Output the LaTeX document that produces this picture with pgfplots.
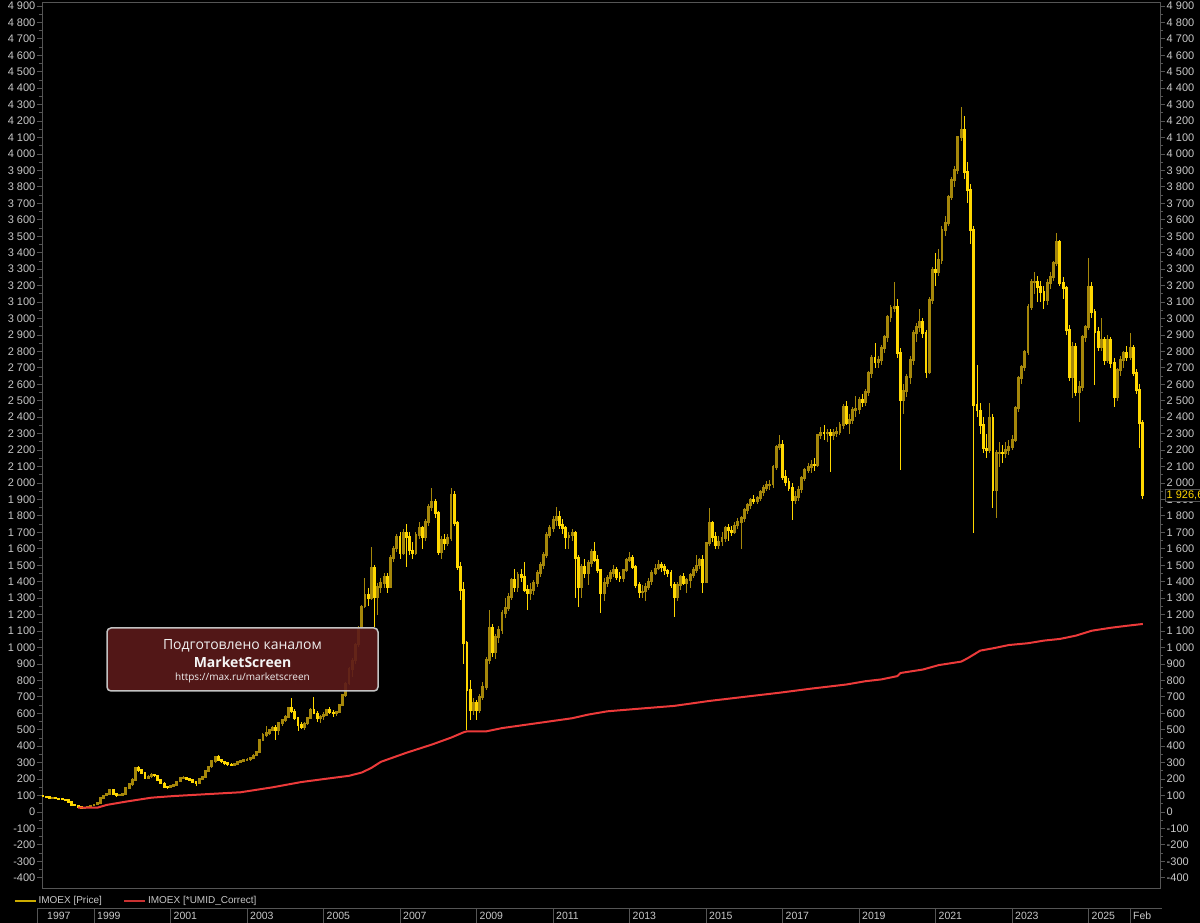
\documentclass[border=0pt]{standalone}
\usepackage{fontspec}
\setmainfont{Liberation Sans}
\newfontfamily\wmfont{Open Sans}
\usepackage{pgfplots}
\pgfplotsset{compat=1.18}
\usepackage{pgfplotstable}
\definecolor{pricebright}{RGB}{255,215,0}
\definecolor{pricedim}{RGB}{165,135,10}
\definecolor{umidred}{RGB}{236,58,58}
\definecolor{ticktext}{RGB}{200,200,200}
\definecolor{framegray}{RGB}{85,85,85}
\definecolor{wmfill}{RGB}{92,26,26}
\definecolor{wmborder}{RGB}{195,195,195}

\pgfplotstableread{
o h l c
100 105 93 96
96 100 85 92
92 95 82 85
85 92 80 88
88 92 78 82
82 88 76 79
79 84 74 76
76 80 70 73
73 75 56 60
60 63 40 43
43 48 36 38
38 40 24 30
30 34 21 25
25 30 22 27
27 35 25 33
33 40 30 38
38 48 35 45
45 58 42 55
55 88 52 85
85 104 80 100
100 116 95 110
110 140 106 134
134 136 104 110
110 114 92 100
100 110 95 103
103 116 98 110
110 150 106 146
146 176 140 170
170 205 160 195
195 275 190 267
267 280 245 255
255 262 228 237
237 242 200 207
207 222 198 215
215 235 208 225
225 232 212 220
220 224 190 195
195 200 168 175
175 180 146 152
152 160 140 150
150 165 146 158
158 172 152 164
164 190 160 185
185 212 180 207
207 218 200 210
210 214 195 201
201 206 188 195
195 200 178 182
182 186 160 175
175 205 170 200
200 218 195 213
213 256 208 250
250 282 245 275
275 315 268 310
310 342 300 334
334 345 310 316
316 322 298 305
305 310 288 298
298 305 280 290
290 296 278 286
286 300 280 292
292 310 286 304
304 318 298 310
310 322 302 316
316 326 308 318
318 334 312 328
328 352 320 345
345 372 338 365
365 445 360 438
438 478 430 468
468 520 455 480
480 505 470 498
498 525 490 510
510 528 440 498
498 548 470 541
541 568 520 560
560 590 550 578
578 640 570 632
632 690 600 610
610 625 560 571
571 580 490 529
529 545 505 517
517 548 500 540
540 578 530 571
571 630 565 620
620 700 595 600
600 612 550 571
571 590 540 580
580 605 560 590
590 628 582 620
620 640 598 605
605 620 580 602
602 615 585 608
608 656 600 650
650 716 645 711
711 790 700 780
780 880 770 870
870 935 820 920
920 1030 900 1020
1020 1130 1000 1120
1120 1260 1110 1250
1250 1420 1240 1319
1319 1360 1250 1300
1300 1611 1290 1483
1483 1500 1125 1307
1307 1390 1200 1368
1368 1420 1330 1392
1392 1450 1360 1429
1429 1450 1330 1368
1368 1560 1360 1544
1544 1620 1520 1600
1600 1690 1580 1672
1672 1700 1540 1574
1574 1720 1560 1696
1696 1750 1490 1672
1672 1700 1560 1590
1590 1640 1540 1574
1574 1700 1560 1684
1684 1760 1660 1727
1727 1740 1600 1672
1672 1780 1650 1763
1763 1870 1740 1854
1854 1970 1830 1885
1885 1900 1790 1818
1818 1830 1560 1581
1581 1680 1540 1654
1654 1690 1590 1635
1635 1690 1620 1666
1666 1970 1650 1927
1927 1950 1740 1757
1757 1770 1470 1490
1490 1520 1290 1350
1350 1400 900 1027
1027 1040 498 742
742 800 560 620
620 690 590 663
663 680 560 620
620 720 600 700
700 790 680 760
760 940 740 924
924 1230 900 1118
1118 1140 940 973
973 1080 930 1064
1064 1130 1030 1106
1106 1225 1080 1210
1210 1300 1180 1240
1240 1330 1220 1307
1307 1425 1290 1410
1410 1480 1340 1368
1368 1460 1340 1441
1441 1480 1400 1429
1429 1520 1340 1350
1350 1380 1230 1331
1331 1390 1290 1350
1350 1410 1320 1392
1392 1470 1370 1453
1453 1520 1430 1502
1502 1580 1480 1562
1562 1700 1545 1684
1684 1745 1665 1727
1727 1800 1700 1775
1775 1854 1740 1793
1793 1830 1720 1745
1745 1780 1690 1727
1727 1740 1600 1672
1672 1700 1600 1680
1680 1720 1650 1696
1696 1710 1300 1544
1544 1560 1246 1368
1368 1510 1300 1490
1490 1540 1420 1453
1453 1530 1380 1514
1514 1600 1490 1581
1581 1640 1520 1532
1532 1560 1450 1471
1471 1480 1210 1331
1331 1420 1280 1392
1392 1440 1370 1423
1423 1470 1400 1453
1453 1500 1430 1471
1471 1490 1410 1429
1429 1460 1400 1423
1423 1480 1400 1471
1471 1545 1460 1532
1532 1580 1520 1544
1544 1560 1480 1490
1490 1500 1360 1380
1380 1400 1300 1337
1337 1380 1300 1340
1340 1390 1280 1368
1368 1420 1350 1400
1400 1470 1380 1453
1453 1510 1440 1480
1480 1530 1470 1502
1502 1520 1460 1490
1490 1510 1440 1470
1470 1480 1430 1453
1453 1470 1360 1380
1380 1400 1185 1307
1307 1400 1280 1380
1380 1440 1350 1429
1429 1450 1380 1392
1392 1420 1330 1410
1410 1450 1360 1440
1440 1490 1420 1471
1471 1560 1450 1500
1500 1545 1480 1532
1532 1560 1330 1398
1398 1641 1390 1635
1635 1848 1620 1757
1757 1770 1640 1672
1672 1700 1600 1623
1623 1680 1600 1645
1645 1700 1620 1666
1666 1740 1640 1727
1727 1750 1650 1710
1710 1740 1680 1702
1702 1760 1690 1740
1740 1790 1720 1763
1763 1800 1600 1787
1787 1850 1760 1836
1836 1880 1810 1866
1866 1910 1840 1897
1897 1930 1870 1890
1890 1920 1870 1909
1909 1960 1890 1945
1945 1990 1920 1970
1970 2010 1950 1988
1988 2020 1960 1990
1990 2110 1970 2097
2097 2230 2080 2219
2219 2292 2200 2231
2231 2260 2020 2037
2037 2080 1980 2006
2006 2030 1950 1970
1970 2000 1775 1897
1897 1950 1870 1915
1915 1980 1890 1960
1960 2040 1940 2030
2030 2090 2010 2079
2079 2120 2060 2097
2097 2140 2060 2110
2110 2150 2070 2105
2105 2300 2100 2292
2292 2340 2270 2304
2304 2350 2260 2300
2300 2330 2250 2304
2304 2330 2067 2290
2290 2330 2260 2304
2304 2340 2280 2310
2310 2370 2290 2353
2353 2480 2330 2462
2462 2500 2350 2365
2365 2420 2300 2383
2383 2460 2360 2444
2444 2530 2400 2450
2450 2520 2420 2505
2505 2540 2460 2493
2493 2570 2470 2553
2553 2680 2530 2669
2669 2780 2640 2760
2760 2851 2700 2736
2736 2770 2700 2748
2748 2840 2720 2820
2820 2900 2790 2888
2888 3020 2860 3009
3009 3080 2980 3064
3064 3222 3040 3070
3070 3120 2760 2790
2790 2820 2079 2505
2505 2600 2420 2560
2560 2660 2520 2644
2644 2770 2600 2748
2748 2930 2720 2912
2912 2970 2860 2948
2948 3060 2920 2979
2979 3000 2880 2912
2912 2930 2640 2675
2675 3130 2660 3112
3112 3310 3090 3295
3295 3400 3200 3283
3283 3420 3260 3356
3356 3560 3330 3538
3538 3620 3500 3581
3581 3750 3560 3739
3739 3860 3720 3842
3842 3930 3800 3903
3903 4110 3880 4103
4103 4286 4080 4146
4146 4230 3850 3891
3891 3950 3700 3781
3781 3820 3450 3538
3538 3560 1696 2474
2474 2720 2400 2440
2440 2487 2300 2353
2353 2400 2180 2210
2210 2300 2150 2200
2200 2487 2180 2400
2400 2420 1848 1958
1958 2200 1787 2182
2182 2250 2100 2185
2185 2230 2120 2180
2180 2250 2150 2200
2200 2260 2170 2219
2219 2290 2200 2261
2261 2470 2250 2456
2456 2650 2430 2638
2638 2720 2600 2705
2705 2810 2680 2797
2797 3090 2780 3070
3070 3240 3050 3222
3222 3280 3150 3225
3225 3260 3100 3192
3192 3230 3100 3161
3161 3200 3060 3112
3112 3240 3080 3216
3216 3280 3180 3252
3252 3350 3230 3337
3337 3520 3320 3465
3465 3480 3200 3216
3216 3250 3120 3186
3186 3200 2900 2930
2930 2960 2620 2644
2644 2860 2517 2827
2827 2850 2530 2553
2553 2620 2371 2584
2584 2900 2560 2888
2888 2960 2860 2948
2948 3368 2930 3192
3192 3220 3000 3040
3040 3060 2596 2918
2918 2950 2800 2827
2827 3003 2800 2870
2870 2890 2720 2748
2748 2900 2730 2870
2870 2890 2700 2730
2730 2760 2462 2523
2523 2700 2500 2687
2687 2770 2650 2748
2748 2800 2700 2790
2790 2830 2740 2766
2766 2912 2750 2821
2821 2840 2650 2669
2669 2690 2540 2565
2565 2600 2213 2365
2365 2380 1900 1926
}\price

\pgfplotstableread{
k v
11 26
17 26
20 43
26 63
34 87
41 97
51 108
62 120
72 150
81 182
88 200
96 220
100 240
103 268
106 305
114 360
122 410
128 452
132 485
133 490
139 490
144 510
155 540
166 570
171 592
177 612
187 628
198 645
209 675
220 700
231 725
241 750
252 775
258 795
263 806
268 826
269 845
276 866
281 893
288 914
290 934
294 981
298 995
303 1015
309 1026
314 1042
319 1052
324 1072
329 1102
335 1120
340 1132
345 1143
}\umid

\pgfplotsset{
  chartframe/.style={
    at={(42pt,35pt)}, anchor=south west,
    width=1118pt, height=886pt, scale only axis,
    xmin=-0.31, xmax=350.4, ymin=-462, ymax=4924,
    axis line style={draw=framegray, line width=0.8pt},
    xtick=\empty,
    ytick={-400,-300,...,4900},
    minor y tick num=1,
    tick align=outside,
    major tick length=5pt, minor tick length=3pt,
    every tick/.style={draw=framegray, line width=0.8pt},
    yticklabel style={font=\fontsize{11}{13}\selectfont, text=ticktext, inner sep=1.5pt},
    /pgf/number format/assume math mode=true,
    /pgf/number format/1000 sep={\ },
  }
}

\begin{document}
\begin{tikzpicture}[x=1pt,y=1pt]
\useasboundingbox (0,0) rectangle (1200,923);
\fill[black] (0,0) rectangle (1200,923);

\begin{axis}[chartframe,
  ytick pos=right, yticklabel pos=right]
  \addplot[draw=none, forget plot] coordinates {(0,0)};
\end{axis}

\begin{axis}[chartframe,
  ytick pos=left, yticklabel pos=left,
  legend style={at={(-0.0276,-0.0147)}, anchor=west, fill=none, draw=none,
    text=ticktext, font=\fontsize{10}{12}\selectfont, legend columns=2,
    /tikz/every even column/.append style={column sep=20pt}},
  legend image code/.code={\draw[#1] (0pt,0pt) -- (14pt,0pt); \path (0pt,0pt) -- (21pt,0pt);},
  legend cell align=left]

  % wicks, rising months
  \addplot[draw=none, forget plot, error bars/.cd, y dir=both, y explicit, error mark=none,
    error bar style={draw=pricedim, line width=1pt}]
    table[x expr=\coordindex,
      y expr={(\thisrow{c}>=\thisrow{o}) ? 0.5*(\thisrow{h}+\thisrow{l}) : nan},
      y error expr={0.5*(\thisrow{h}-\thisrow{l})}] {\price};
  % wicks, falling months
  \addplot[draw=none, forget plot, error bars/.cd, y dir=both, y explicit, error mark=none,
    error bar style={draw=pricebright, line width=1pt}]
    table[x expr=\coordindex,
      y expr={(\thisrow{c}<\thisrow{o}) ? 0.5*(\thisrow{h}+\thisrow{l}) : nan},
      y error expr={0.5*(\thisrow{h}-\thisrow{l})}] {\price};
  % bodies, rising months
  \addplot[draw=none, forget plot, error bars/.cd, y dir=both, y explicit, error mark=none,
    error bar style={draw=pricedim, line width=2.9pt}]
    table[x expr=\coordindex,
      y expr={(\thisrow{c}>=\thisrow{o}) ? 0.5*(\thisrow{o}+\thisrow{c}) : nan},
      y error expr={0.5*abs(\thisrow{c}-\thisrow{o})+4}] {\price};
  % bodies, falling months
  \addplot[draw=none, forget plot, error bars/.cd, y dir=both, y explicit, error mark=none,
    error bar style={draw=pricebright, line width=2.9pt}]
    table[x expr=\coordindex,
      y expr={(\thisrow{c}<\thisrow{o}) ? 0.5*(\thisrow{o}+\thisrow{c}) : nan},
      y error expr={0.5*abs(\thisrow{c}-\thisrow{o})+4}] {\price};

  \addplot[umidred, line width=2pt, forget plot] table[x=k, y=v] {\umid};

  \addlegendimage{pricebright!80!black, line width=1.2pt}
  \addlegendentry{IMOEX [Price]}
  \addlegendimage{umidred!85!black, line width=1.2pt}
  \addlegendentry{IMOEX [*UMID\_Correct]}
\end{axis}

% last value tag on the right scale
\node[draw=framegray, fill=black, text=pricebright, anchor=west, inner sep=1.5pt,
  font=\fontsize{11}{13}\selectfont] at (1165,427.5) {1 926,65};

% date bar
\draw[framegray, line width=0.8pt] (37,15) -- (1162,15);
\draw[framegray, line width=0.8pt] (37,0) -- (37,15);
\node[anchor=west, text=ticktext, font=\fontsize{10.5}{12}\selectfont, inner sep=0pt] at (47,7) {1997};
\foreach \px/\lab in {94/1999, 170.5/2001, 247/2003, 323.5/2005, 400/2007, 476.5/2009,
   553/2011, 629.5/2013, 706/2015, 782.5/2017, 859/2019, 935.5/2021, 1012/2023,
   1088.5/2025, 1130/Feb} {
  \draw[framegray, line width=0.8pt] (\px,0) -- (\px,15);
  \node[anchor=west, text=ticktext, font=\fontsize{10.5}{12}\selectfont, inner sep=0pt] at (\px+3,7) {\lab};
}

% watermark
\fill[wmfill, fill opacity=0.9, rounded corners=4pt] (107,232) rectangle (378,295);
\draw[wmborder, line width=1.5pt, rounded corners=4pt] (107,232) rectangle (378,295);
\node[text=white!88!gray, font=\wmfont\fontsize{14}{16}\selectfont] at (242.5,277) {Подготовлено каналом};
\node[text=white!92!gray, font=\wmfont\bfseries\fontsize{14}{16}\selectfont] at (242.5,261) {MarketScreen};
\node[text=white!88!gray, font=\wmfont\fontsize{10}{12}\selectfont] at (242.5,245.5) {https://max.ru/marketscreen};
\end{tikzpicture}
\end{document}
